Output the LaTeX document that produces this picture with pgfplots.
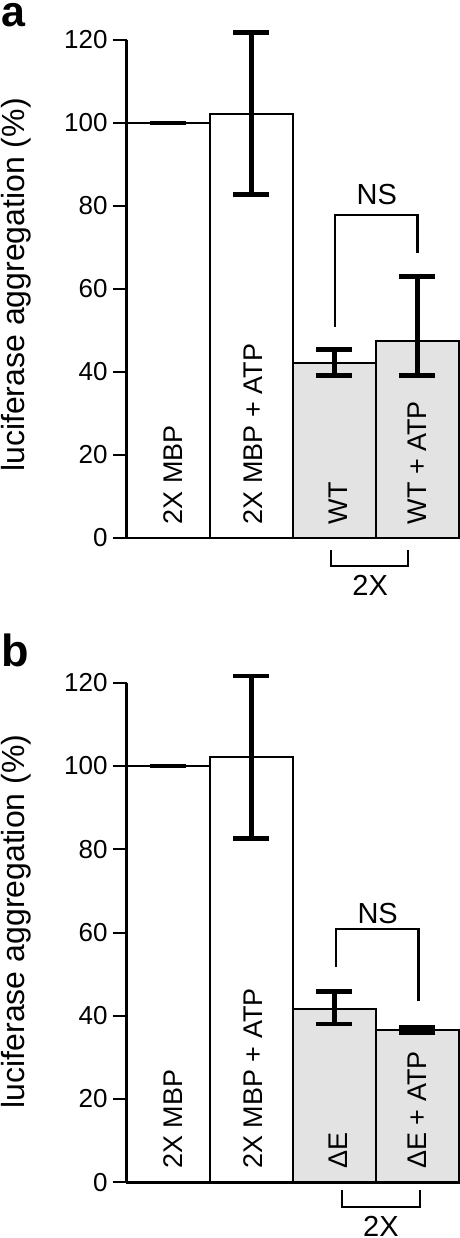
\documentclass[border=0pt]{standalone}
\usepackage{fontspec}
\setmainfont{Liberation Sans}
\usepackage{pgfplots}
\usepackage{pgfplotstable}
\pgfplotsset{compat=1.18}
\definecolor{bargray}{RGB}{227,227,227}

\pgfplotstableread{
x y ep em
0 100 0 0
1 102.2 19.7 19.5
}\whiteA
\pgfplotstableread{
x y ep em
2 42.2 3.3 3.1
3 47.5 15.5 8.4
}\grayA
\pgfplotstableread{
x y ep em
0 100 0 0
1 102.2 19.4 19.6
}\whiteB
\pgfplotstableread{
x y ep em
2 41.6 4.2 3.6
3 36.6 0.6 0.6
}\grayB

\pgfplotsset{
  panel/.style={
    scale only axis, width=166pt,
    xmin=-0.5, xmax=3.5, ymin=0, ymax=120,
    axis x line*=bottom, axis y line*=left,
    xtick=\empty, ytick={0,20,...,120},
    tick align=outside, major tick length=7pt,
    tick style={line width=1pt, black},
    axis line style={line width=1.5pt},
    yticklabel style={font=\fontsize{13}{13}\selectfont, inner sep=0pt, xshift=-2.5pt},
    /pgf/number format/assume math mode=true,
    clip=false,
    ybar, bar width=1, bar shift=0pt,
  },
  errs/.style={
    line width=1.2pt, draw=black,
    error bars/y dir=both, error bars/y explicit,
    error bars/error bar style={line width=2.4pt, black},
    error bars/error mark options={rotate=90, mark size=9pt, line width=2.4pt, black},
  },
}
\tikzset{
  barlab/.style={rotate=90, anchor=west, inner sep=0pt, font=\fontsize{13.5}{13.5}\selectfont},
  ann/.style={font=\fontsize{14.5}{14.5}\selectfont, inner sep=0pt},
}

\begin{document}
\begin{tikzpicture}
\useasboundingbox (0,0) rectangle (230pt,619pt);

% panel letters
\node[anchor=base west, inner sep=0pt, font=\fontsize{21.5}{21.5}\selectfont\bfseries] at (0.5pt,605.5pt) {a};
\node[anchor=base west, inner sep=0pt, font=\fontsize{22.5}{22.5}\selectfont\bfseries] at (0.5pt,285.5pt) {b};

% y labels
\node[rotate=90, anchor=base, inner sep=0pt, font=\fontsize{16}{16}\selectfont] at (12.5pt,476.5pt) {luciferase aggregation (\%)};
\node[rotate=90, anchor=base, inner sep=0pt, font=\fontsize{16}{16}\selectfont] at (12.5pt,158.3pt) {luciferase aggregation (\%)};

% panel a
\begin{axis}[panel, height=249pt, at={(63.5pt,350pt)}, anchor=south west]
\addplot[fill=white, errs] table[x=x, y=y, y error plus=ep, y error minus=em]{\whiteA};
\addplot[fill=bargray, errs] table[x=x, y=y, y error plus=ep, y error minus=em]{\grayA};
\node[barlab] at (axis cs:0.05,3.2) {2X MBP};
\node[barlab] at (axis cs:1.02,3.2) {2X MBP + ATP};
\node[barlab] at (axis cs:2.04,3.2) {WT};
\node[barlab] at (axis cs:3,3.2) {WT + ATP};
\draw[line width=1.3pt] (axis cs:2.006,50.9) -- (axis cs:2.006,77.8) -- (axis cs:3.0,77.8) -- (axis cs:3.0,68.6);
\node[ann] at (axis cs:2.51,82.7) {NS};
\draw[line width=1.1pt] (axis cs:1.958,-2.9) -- (axis cs:1.958,-6.7) -- (axis cs:2.886,-6.7) -- (axis cs:2.886,-2.9);
\node[ann] at (axis cs:2.43,-11.4) {2X};
\end{axis}

% panel b
\begin{axis}[panel, height=249.8pt, at={(63.5pt,27.85pt)}, anchor=south west]
\addplot[fill=white, errs] table[x=x, y=y, y error plus=ep, y error minus=em]{\whiteB};
\addplot[fill=bargray, errs] table[x=x, y=y, y error plus=ep, y error minus=em]{\grayB};
\node[barlab] at (axis cs:0.05,3.2) {2X MBP};
\node[barlab] at (axis cs:1.02,3.2) {2X MBP + ATP};
\node[barlab] at (axis cs:2.04,3.2) {ΔE};
\node[barlab] at (axis cs:3,3.2) {ΔE + ATP};
\draw[line width=1.3pt] (axis cs:2.018,51.8) -- (axis cs:2.018,60.8) -- (axis cs:3.01,60.8) -- (axis cs:3.01,43.6);
\node[ann] at (axis cs:2.52,64.6) {NS};
\draw[line width=1.1pt] (axis cs:2.094,-1.85) -- (axis cs:2.094,-6.0) -- (axis cs:3.03,-6.0) -- (axis cs:3.03,-1.85);
\node[ann] at (axis cs:2.56,-10.6) {2X};
\end{axis}
\end{tikzpicture}
\end{document}
